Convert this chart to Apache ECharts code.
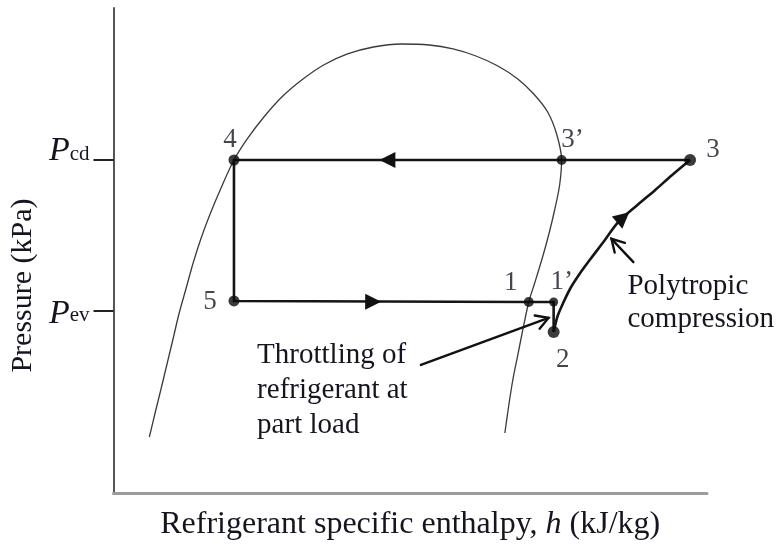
<!DOCTYPE html>
<html>
<head>
<meta charset="utf-8">
<script src="https://cdn.jsdelivr.net/npm/echarts@6/dist/echarts.min.js"></script>
<style>
  html, body { margin: 0; padding: 0; background: #fff; }
  #chart { width: 778px; height: 548px; }
</style>
</head>
<body>
<div id="chart"></div>
<script>
// Vapour-compression cycle on a pressure–enthalpy diagram (relative units, 0–100 on both axes)

// Saturation dome: liquid line up to the critical region, then vapour line down
const domeH = [6.04, 7.05, 8.05, 9.06, 10.07, 11.07, 12.25, 13.42, 14.77, 16.28, 18.12, 20.30, 22.65, 25.34, 28.36, 31.71, 35.40, 39.43, 43.79, 48.49, 53.19, 57.21, 61.07, 64.77, 68.12, 70.81, 73.15, 74.66, 75.50, 75.17, 74.33, 73.32, 72.15, 70.97, 69.97, 68.96, 68.12, 67.28, 66.61, 65.94];
const domeP = [11.55, 16.70, 21.65, 26.80, 31.96, 37.11, 42.27, 47.42, 52.58, 57.53, 62.89, 68.66, 73.20, 77.53, 81.65, 85.15, 88.25, 90.52, 91.96, 92.58, 92.37, 91.55, 90.10, 88.04, 85.36, 82.27, 78.56, 74.02, 68.66, 63.51, 58.35, 53.20, 48.04, 43.30, 39.38, 33.61, 28.45, 23.30, 18.14, 12.37];

// Cycle state points, in path order 3 → 3' → 4 → 5 → 1 → 1' → 2
const stateNames = ['3', '3\u2019', '4', '5', '1', '1\u2019', '2'];
const stateH = [97.15, 75.50, 20.30, 20.30, 69.97, 74.16, 74.16];
const stateP = [68.66, 68.66, 68.66, 39.60, 39.38, 39.38, 33.20];

// Polytropic compression path 2 → 3
const compH = [74.16, 74.83, 75.84, 77.01, 78.52, 80.37, 82.55, 85.07, 88.09, 91.28, 94.13, 97.15];
const compP = [33.20, 36.49, 39.38, 42.27, 45.15, 48.25, 51.75, 55.88, 59.18, 62.47, 65.57, 68.66];

// Flow-direction arrowheads: tip position and the point they head towards
const flowTipH = [44.8, 45.1, 86.9];
const flowTipP = [68.66, 39.45, 57.9];
const flowToH = [20.30, 69.97, 97.15];
const flowToP = [68.66, 39.38, 68.66];

// Pressure levels marked on the vertical axis
const pressureLevels = [37.5, 68.66];
const pressureSubs = ['ev', 'cd'];

// Callouts: text and pointer (tail → head)
const calloutTexts = ['Throttling of\nrefrigerant at\npart load', 'Polytropic\ncompression'];
const calloutH = [24.2, 86.6];
const calloutP = [32.0, 46.0];
const pointerFromH = [51.8, 87.6];
const pointerFromP = [26.4, 47.6];
const pointerToH = [73.3, 83.9];
const pointerToP = [36.1, 52.4];

const SERIF = '"Liberation Serif", "Times New Roman", serif';
const INK = '#15151f';

// label placement around each state dot (pixels)
const stateLabelOffsets = [[23, -10], [11, -20], [-4, -20], [-24, 1], [-18, -19], [8, -20], [9, 28]];
const stateDotSizes = [12, 10, 11, 11, 10, 9, 12];

const zip = (a, b) => a.map((v, i) => [v, b[i]]);

function renderFlowArrow(params, api) {
  const tip = api.coord([api.value(0), api.value(1)]);
  const to = api.coord([api.value(2), api.value(3)]);
  let dx = to[0] - tip[0], dy = to[1] - tip[1];
  const len = Math.hypot(dx, dy) || 1;
  dx /= len; dy /= len;
  const L = 16, W = 8;
  const bx = tip[0] - dx * L, by = tip[1] - dy * L;
  return {
    type: 'polygon',
    shape: { points: [tip, [bx - dy * W, by + dx * W], [bx + dy * W, by - dx * W]] },
    style: { fill: '#111' }
  };
}

function renderPointer(params, api) {
  const a = api.coord([api.value(0), api.value(1)]);
  const b = api.coord([api.value(2), api.value(3)]);
  let dx = b[0] - a[0], dy = b[1] - a[1];
  const len = Math.hypot(dx, dy) || 1;
  dx /= len; dy /= len;
  const H = 14, ang = Math.PI / 6;
  const vx = -dx, vy = -dy;
  const w = (s) => [b[0] + H * (vx * Math.cos(s * ang) - vy * Math.sin(s * ang)),
                    b[1] + H * (vx * Math.sin(s * ang) + vy * Math.cos(s * ang))];
  const st = { stroke: '#111', lineWidth: 2.4, fill: null, lineCap: 'round', lineJoin: 'miter' };
  return {
    type: 'group',
    children: [
      { type: 'line', shape: { x1: a[0], y1: a[1], x2: b[0], y2: b[1] }, style: st },
      { type: 'polyline', shape: { points: [w(1), b, w(-1)] }, style: st }
    ]
  };
}

function renderCallout(params, api) {
  const p = api.coord([api.value(0), api.value(1)]);
  return {
    type: 'text',
    x: p[0], y: p[1],
    style: {
      text: calloutTexts[params.dataIndex],
      fontFamily: SERIF, fontSize: 29,
      lineHeight: params.dataIndex === 0 ? 35 : 33,
      fill: INK, align: 'left', verticalAlign: 'top'
    }
  };
}

const chart = echarts.init(document.getElementById('chart'), null, { renderer: 'canvas' });

chart.setOption({
  backgroundColor: '#fff',
  animation: false,
  grid: { left: 111, right: 71, top: 8, bottom: 55 },
  xAxis: {
    type: 'value', min: 0, max: 100,
    name: '{t|Refrigerant specific enthalpy, }{i|h}{t| (kJ/kg)}',
    nameLocation: 'middle', nameGap: 16,
    nameTextStyle: {
      rich: {
        t: { fontFamily: SERIF, fontSize: 32, color: INK },
        i: { fontFamily: SERIF, fontSize: 32, fontStyle: 'italic', color: INK }
      }
    },
    axisLine: { show: true, onZero: false, lineStyle: { color: '#9c9c9c', width: 3 } },
    axisTick: { show: false },
    axisLabel: { show: false },
    splitLine: { show: false }
  },
  yAxis: {
    type: 'value', min: 0, max: 100,
    name: 'Pressure (kPa)',
    nameLocation: 'middle', nameRotate: 90, nameGap: 64,
    nameTextStyle: { fontFamily: SERIF, fontSize: 30, color: INK, padding: [0, 70, 0, 0] },
    axisLine: { show: true, onZero: false, lineStyle: { color: '#555', width: 2 } },
    axisTick: {
      show: true, inside: false, length: 20,
      customValues: pressureLevels,
      lineStyle: { color: '#222', width: 2 }
    },
    axisLabel: {
      show: true, margin: 24,
      customValues: pressureLevels,
      formatter: function (v) {
        const i = pressureLevels.indexOf(v);
        return i === 1 ? '{Pu|P}{su|' + pressureSubs[i] + '}' : '{P|P}{s|' + pressureSubs[i] + '}';
      },
      rich: {
        P: { fontFamily: SERIF, fontStyle: 'italic', fontSize: 34, color: INK, padding: [6, 0, 0, 0] },
        s: { fontFamily: SERIF, fontSize: 21, color: INK, padding: [0, 0, -8, 0] },
        Pu: { fontFamily: SERIF, fontStyle: 'italic', fontSize: 34, color: INK, padding: [0, 0, 18, 0] },
        su: { fontFamily: SERIF, fontSize: 21, color: INK, padding: [0, 0, 12, 0] }
      }
    },
    splitLine: { show: false }
  },
  series: [
    {
      name: 'Saturation dome', type: 'line',
      data: zip(domeH, domeP),
      smooth: 0.3, symbol: 'none', clip: false,
      lineStyle: { color: '#3a3a3a', width: 1.3 },
      z: 2
    },
    {
      name: 'Cycle', type: 'line',
      data: zip(stateH, stateP),
      symbol: 'none', clip: false,
      lineStyle: { color: '#151515', width: 2.6, join: 'miter' },
      z: 3
    },
    {
      name: 'Compression', type: 'line',
      data: zip(compH, compP),
      smooth: 0.3, symbol: 'none', clip: false,
      lineStyle: { color: '#151515', width: 2.6 },
      z: 3
    },
    {
      name: 'Flow', type: 'custom',
      renderItem: renderFlowArrow,
      data: flowTipH.map((h, i) => [h, flowTipP[i], flowToH[i], flowToP[i]]),
      z: 4
    },
    {
      name: 'States', type: 'scatter',
      data: stateH.map((h, i) => ({
        value: [h, stateP[i]],
        symbolSize: stateDotSizes[i],
        label: { offset: stateLabelOffsets[i] }
      })),
      symbol: 'circle', clip: false,
      itemStyle: { color: '#0a0a0a' },
      label: {
        show: true, position: 'inside',
        align: 'center', verticalAlign: 'middle',
        formatter: (p) => stateNames[p.dataIndex],
        fontFamily: SERIF, fontSize: 27, color: INK
      },
      z: 5
    },
    {
      name: 'Pointers', type: 'custom',
      renderItem: renderPointer,
      data: pointerFromH.map((h, i) => [h, pointerFromP[i], pointerToH[i], pointerToP[i]]),
      z: 4
    },
    {
      name: 'Callouts', type: 'custom',
      renderItem: renderCallout,
      data: zip(calloutH, calloutP),
      z: 4
    }
  ]
});
</script>
</body>
</html>
